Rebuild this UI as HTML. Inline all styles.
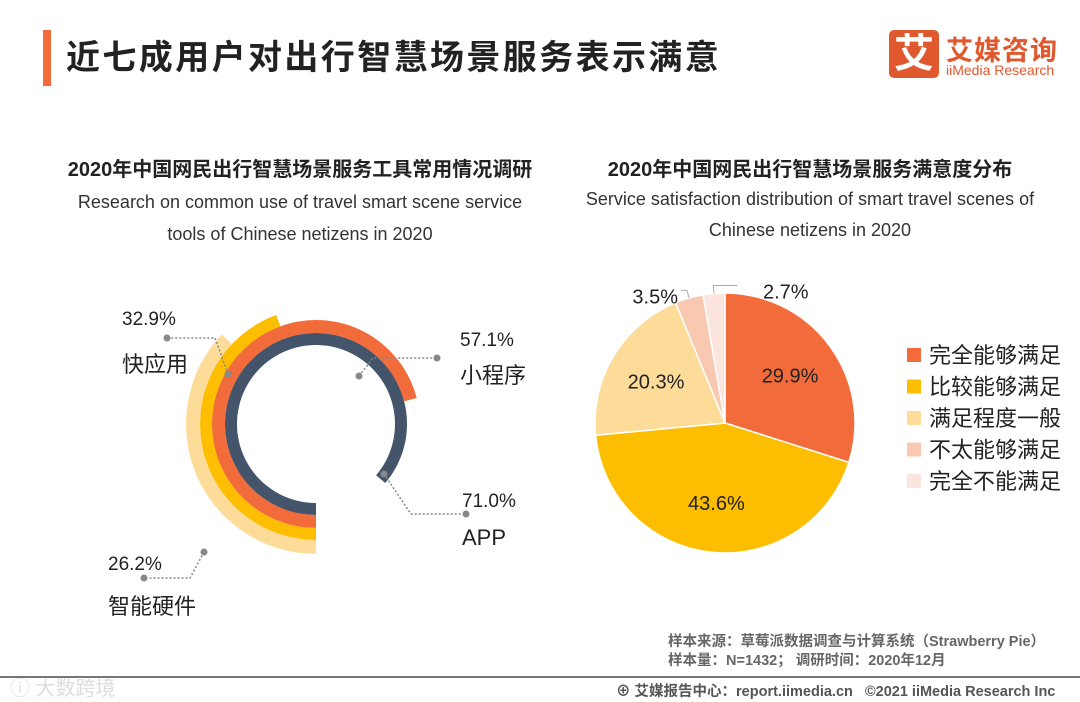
<!DOCTYPE html>
<html><head><meta charset="utf-8">
<style>
body{margin:0;width:1080px;height:702px;background:#fff;overflow:hidden;position:relative;font-family:"Liberation Sans","Noto Sans CJK SC",sans-serif;color:#222}
.abs{position:absolute;white-space:nowrap}
</style></head>
<body>
<div class="abs" style="left:43px;top:30px;width:8px;height:56px;background:#f26b3a"></div>
<div class="abs" style="left:66px;top:30px;font-size:34px;font-weight:bold;color:#222;letter-spacing:2.4px">近七成用户对出行智慧场景服务表示满意</div>
<div class="abs" style="left:889px;top:30px;width:50px;height:48px;background:#e0582d;border-radius:5px;color:#fff;font-size:40px;font-weight:bold;text-align:center;line-height:48px">艾</div>
<div class="abs" style="left:946px;top:29px;font-size:27px;font-weight:bold;color:#e0582d;letter-spacing:1px">艾媒咨询</div>
<div class="abs" style="left:946px;top:62px;font-size:14px;color:#e0582d">iiMedia Research</div>

<div class="abs" style="left:40px;top:153px;width:520px;text-align:center;font-size:20px;font-weight:bold">2020年中国网民出行智慧场景服务工具常用情况调研</div>
<div class="abs" style="left:40px;top:186px;width:520px;text-align:center;font-size:18px;line-height:32px;color:#333">Research on common use of travel smart scene service<br>tools of Chinese netizens in 2020</div>
<div class="abs" style="left:555px;top:153px;width:510px;text-align:center;font-size:20px;font-weight:bold">2020年中国网民出行智慧场景服务满意度分布</div>
<div class="abs" style="left:555px;top:184px;width:510px;text-align:center;font-size:18px;line-height:31px;color:#333">Service satisfaction distribution of smart travel scenes of<br>Chinese netizens in 2020</div>

<svg class="abs" style="left:0;top:0" width="1080" height="702">
<g id="radial"></g><g id="pie"></g><g id="legend"></g>
</svg>

<div class="abs" style="left:668px;top:633px;font-size:14.5px;font-weight:bold;color:#666;line-height:19px">样本来源：草莓派数据调查与计算系统（Strawberry Pie）<br>样本量：N=1432； 调研时间：2020年12月</div>
<div class="abs" style="left:0;top:676px;width:1080px;height:2px;background:#777"></div>
<div class="abs" style="left:616px;top:680px;font-size:14.5px;font-weight:bold;color:#555">⊕ 艾媒报告中心：report.iimedia.cn &nbsp; ©2021 iiMedia Research Inc</div>
<div class="abs" style="left:10px;top:672px;font-size:20px;color:#ddd">ⓘ 大数跨境</div>

<script>
const toolNames=["APP","小程序","快应用","智能硬件"];
const toolValues=[71.0,57.1,32.9,26.2];
const toolColors=["#44546a","#f26b3a","#fdbd00","#fddc9a"];
const satNames=["完全能够满足","比较能够满足","满足程度一般","不太能够满足","完全不能满足"];
const satValues=[29.9,43.6,20.3,3.5,2.7];
const satColors=["#f26b3a","#fdbd00","#fddc9a","#f8c9b0","#fbe5de"];
const NS="http://www.w3.org/2000/svg";
function mk(t,a,p){const e=document.createElementNS(NS,t);for(const k in a)e.setAttribute(k,a[k]);p.appendChild(e);return e;}
function pt(cx,cy,r,deg){const a=deg*Math.PI/180;return [cx+r*Math.sin(a),cy-r*Math.cos(a)];}
const rg=document.getElementById('radial');
const cx=316,cy=424,radii=[[79,91],[91,104],[104,116],[116,130]];
function angleScale(v){return 30+3.95*v;}
toolValues.forEach((v,i)=>{
  const [r0,r1]=radii[i];const s=180,e=180+angleScale(v);
  const large=(e-s)>180?1:0;
  const a=pt(cx,cy,r1,s),b=pt(cx,cy,r1,e),c=pt(cx,cy,r0,e),d=pt(cx,cy,r0,s);
  const p=mk('path',{d:`M${a}A${r1},${r1} 0 ${large} 1 ${b}L${c}A${r0},${r0} 0 ${large} 0 ${d}Z`,fill:toolColors[i]},rg);
  
  
});
const leaders=[
 {pts:[[384,474],[411,514],[466,514]],lx:462,ly:507,ny:545,i:0},
 {pts:[[359,376],[373,358],[437,358]],lx:460,ly:346,ny:383,i:1},
 {pts:[[228,374],[215,338],[167,338]],lx:122,ly:325,ny:372,i:2},
 {pts:[[204,552],[190,578],[144,578]],lx:108,ly:570,ny:614,i:3}];
leaders.forEach(L=>{
  const pl=mk('polyline',{points:L.pts.map(p=>p.join(',')).join(' '),fill:'none',stroke:'#888','stroke-width':1.5,'stroke-dasharray':'2,2'},rg);
  
  
  mk('circle',{cx:L.pts[0][0],cy:L.pts[0][1],r:3.5,fill:'#888'},rg);
  mk('circle',{cx:L.pts[2][0],cy:L.pts[2][1],r:3.5,fill:'#888'},rg);
  const t=mk('text',{x:L.lx,y:L.ly,'font-size':19,fill:'#222'},rg);t.textContent=toolValues[L.i].toFixed(1)+'%';
  
  
  const n=mk('text',{x:L.lx,y:L.ny,'font-size':22,fill:'#222'},rg);n.textContent=toolNames[L.i];
  
  
});
const pg=document.getElementById('pie');
const px=725,py=423,pr=130;
const total=satValues.reduce((a,b)=>a+b,0);
let acc=0;
satValues.forEach((v,i)=>{
  const s=acc/total*360,e=(acc+v)/total*360;acc+=v;
  const a=pt(px,py,pr,s),b=pt(px,py,pr,e);
  const p=mk('path',{d:`M${px},${py}L${a}A${pr},${pr} 0 ${(e-s)>180?1:0} 1 ${b}Z`,fill:satColors[i],stroke:'#fff','stroke-width':1.5},pg);
  
  
  const m=(s+e)/2;
  let lp,anchor='middle';
  if(i<3){lp=pt(px,py,pr*0.62,m);}
  else{const o=pt(px,py,pr*1.0,m),q=pt(px,py,pr+8,m);
    const tx=i===3?678:763;
    mk('polyline',{points:`${o} ${q} ${i===3?q[0]-6:q[0]+24},${q[1]}`,fill:'none',stroke:'#aaa','stroke-width':1},pg);
    lp=[tx,q[1]+6];anchor=i===3?'end':'start';}
  const t=mk('text',{x:lp[0],y:lp[1]+7,'font-size':20,fill:'#222','text-anchor':anchor},pg);
  t.textContent=v.toFixed(1)+'%';
  
  
});
const lg=document.getElementById('legend');
satNames.forEach((n,i)=>{
  const y=355+i*31.5;
  const r=mk('rect',{x:907,y:y-7,width:14,height:14,fill:satColors[i]},lg);
  
  
  const t=mk('text',{x:929,y:y+8,'font-size':22,fill:'#222'},lg);t.textContent=n;
  
  
});
</script>
</body></html>
